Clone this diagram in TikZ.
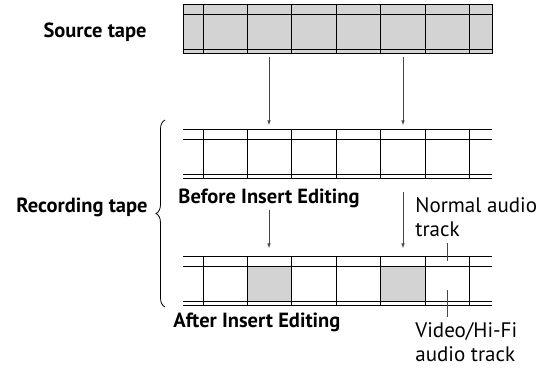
\documentclass[tikz,border=0pt]{standalone}
\usepackage{fontspec}
\setmainfont{PT Sans}
\usetikzlibrary{decorations.pathreplacing}
\definecolor{tapegray}{RGB}{211,211,211}
\definecolor{leadgray}{RGB}{70,70,70}
\tikzset{
  label/.style={inner sep=0pt, font=\fontsize{20.5}{24}\selectfont\bfseries},
  note/.style={inner sep=0pt, align=left, font=\fontsize{21}{24}\selectfont},
  feed/.style={->, leadgray, line width=0.6pt},
  lead/.style={leadgray, line width=0.6pt}
}
\begin{document}
\begin{tikzpicture}[x=1pt, y=-1pt, >=latex, line width=0.8pt]
  \useasboundingbox (0,0) rectangle (544,368);
  % source tape
  \begin{scope}[yshift=-4pt]
    \fill[tapegray] (183,0) rectangle (492,49.5);
    \draw (183,0) rectangle (492,49.5);
    \draw (183,10) -- (492,10);
    \draw (183,45) -- (492,45);
    \foreach \i in {0,...,6}
      \draw ({203+44.4*\i},0) -- ++(0,49.5);
  \end{scope}
  \node[label, anchor=base east] (src) at (147,37) {Source tape};
  % recording tape, before
  \begin{scope}[yshift=-129pt]
    \foreach \y in {0,10,45,49.5}
      \draw (183,\y) -- (492,\y);
    \foreach \i in {0,...,6}
      \draw ({203+44.4*\i},0) -- ++(0,49.5);
  \end{scope}
  \node[label, anchor=base west] (before) at (178,203) {Before Insert Editing};
  % recording tape, after
  \begin{scope}[yshift=-256pt]
    \fill[tapegray] (247.4,10) rectangle (291.8,45);
    \fill[tapegray] (380.6,10) rectangle (425,45);
    \foreach \y in {0,10,45,49.5}
      \draw (183,\y) -- (492,\y);
    \foreach \i in {0,...,6}
      \draw ({203+44.4*\i},0) -- ++(0,49.5);
  \end{scope}
  \node[label, anchor=base west] (after) at (173,327) {After Insert Editing};
  % brace
  \draw[decorate, decoration={brace, amplitude=9pt}] (165,307) -- (165,120);
  \node[label, anchor=base east] (rec) at (148,212) {Recording tape};
  % copy arrows
  \coordinate (s1) at (269,57);  \coordinate (b1) at (269,125);
  \coordinate (s2) at (403,57);  \coordinate (b2) at (403,125);
  \coordinate (c1) at (269,210); \coordinate (a1) at (269,248);
  \coordinate (c2) at (403,192); \coordinate (a2) at (403,248);
  \draw[feed] (s1) -- (b1);
  \draw[feed] (s2) -- (b2);
  \draw[feed] (c1) -- (a1);
  \draw[feed] (c2) -- (a2);
  % track callouts
  \node[note, anchor=north west] (normal) at (415,197) {Normal audio\\track};
  \node[note, anchor=north west] (video) at (415,322) {Video/Hi-Fi\\audio track};
  \coordinate (t1) at (447,261);
  \coordinate (t2) at (447,290);
  \draw[lead] (447,243) -- (t1);
  \draw[lead] (t2) -- (447,317);
\end{tikzpicture}
\end{document}
